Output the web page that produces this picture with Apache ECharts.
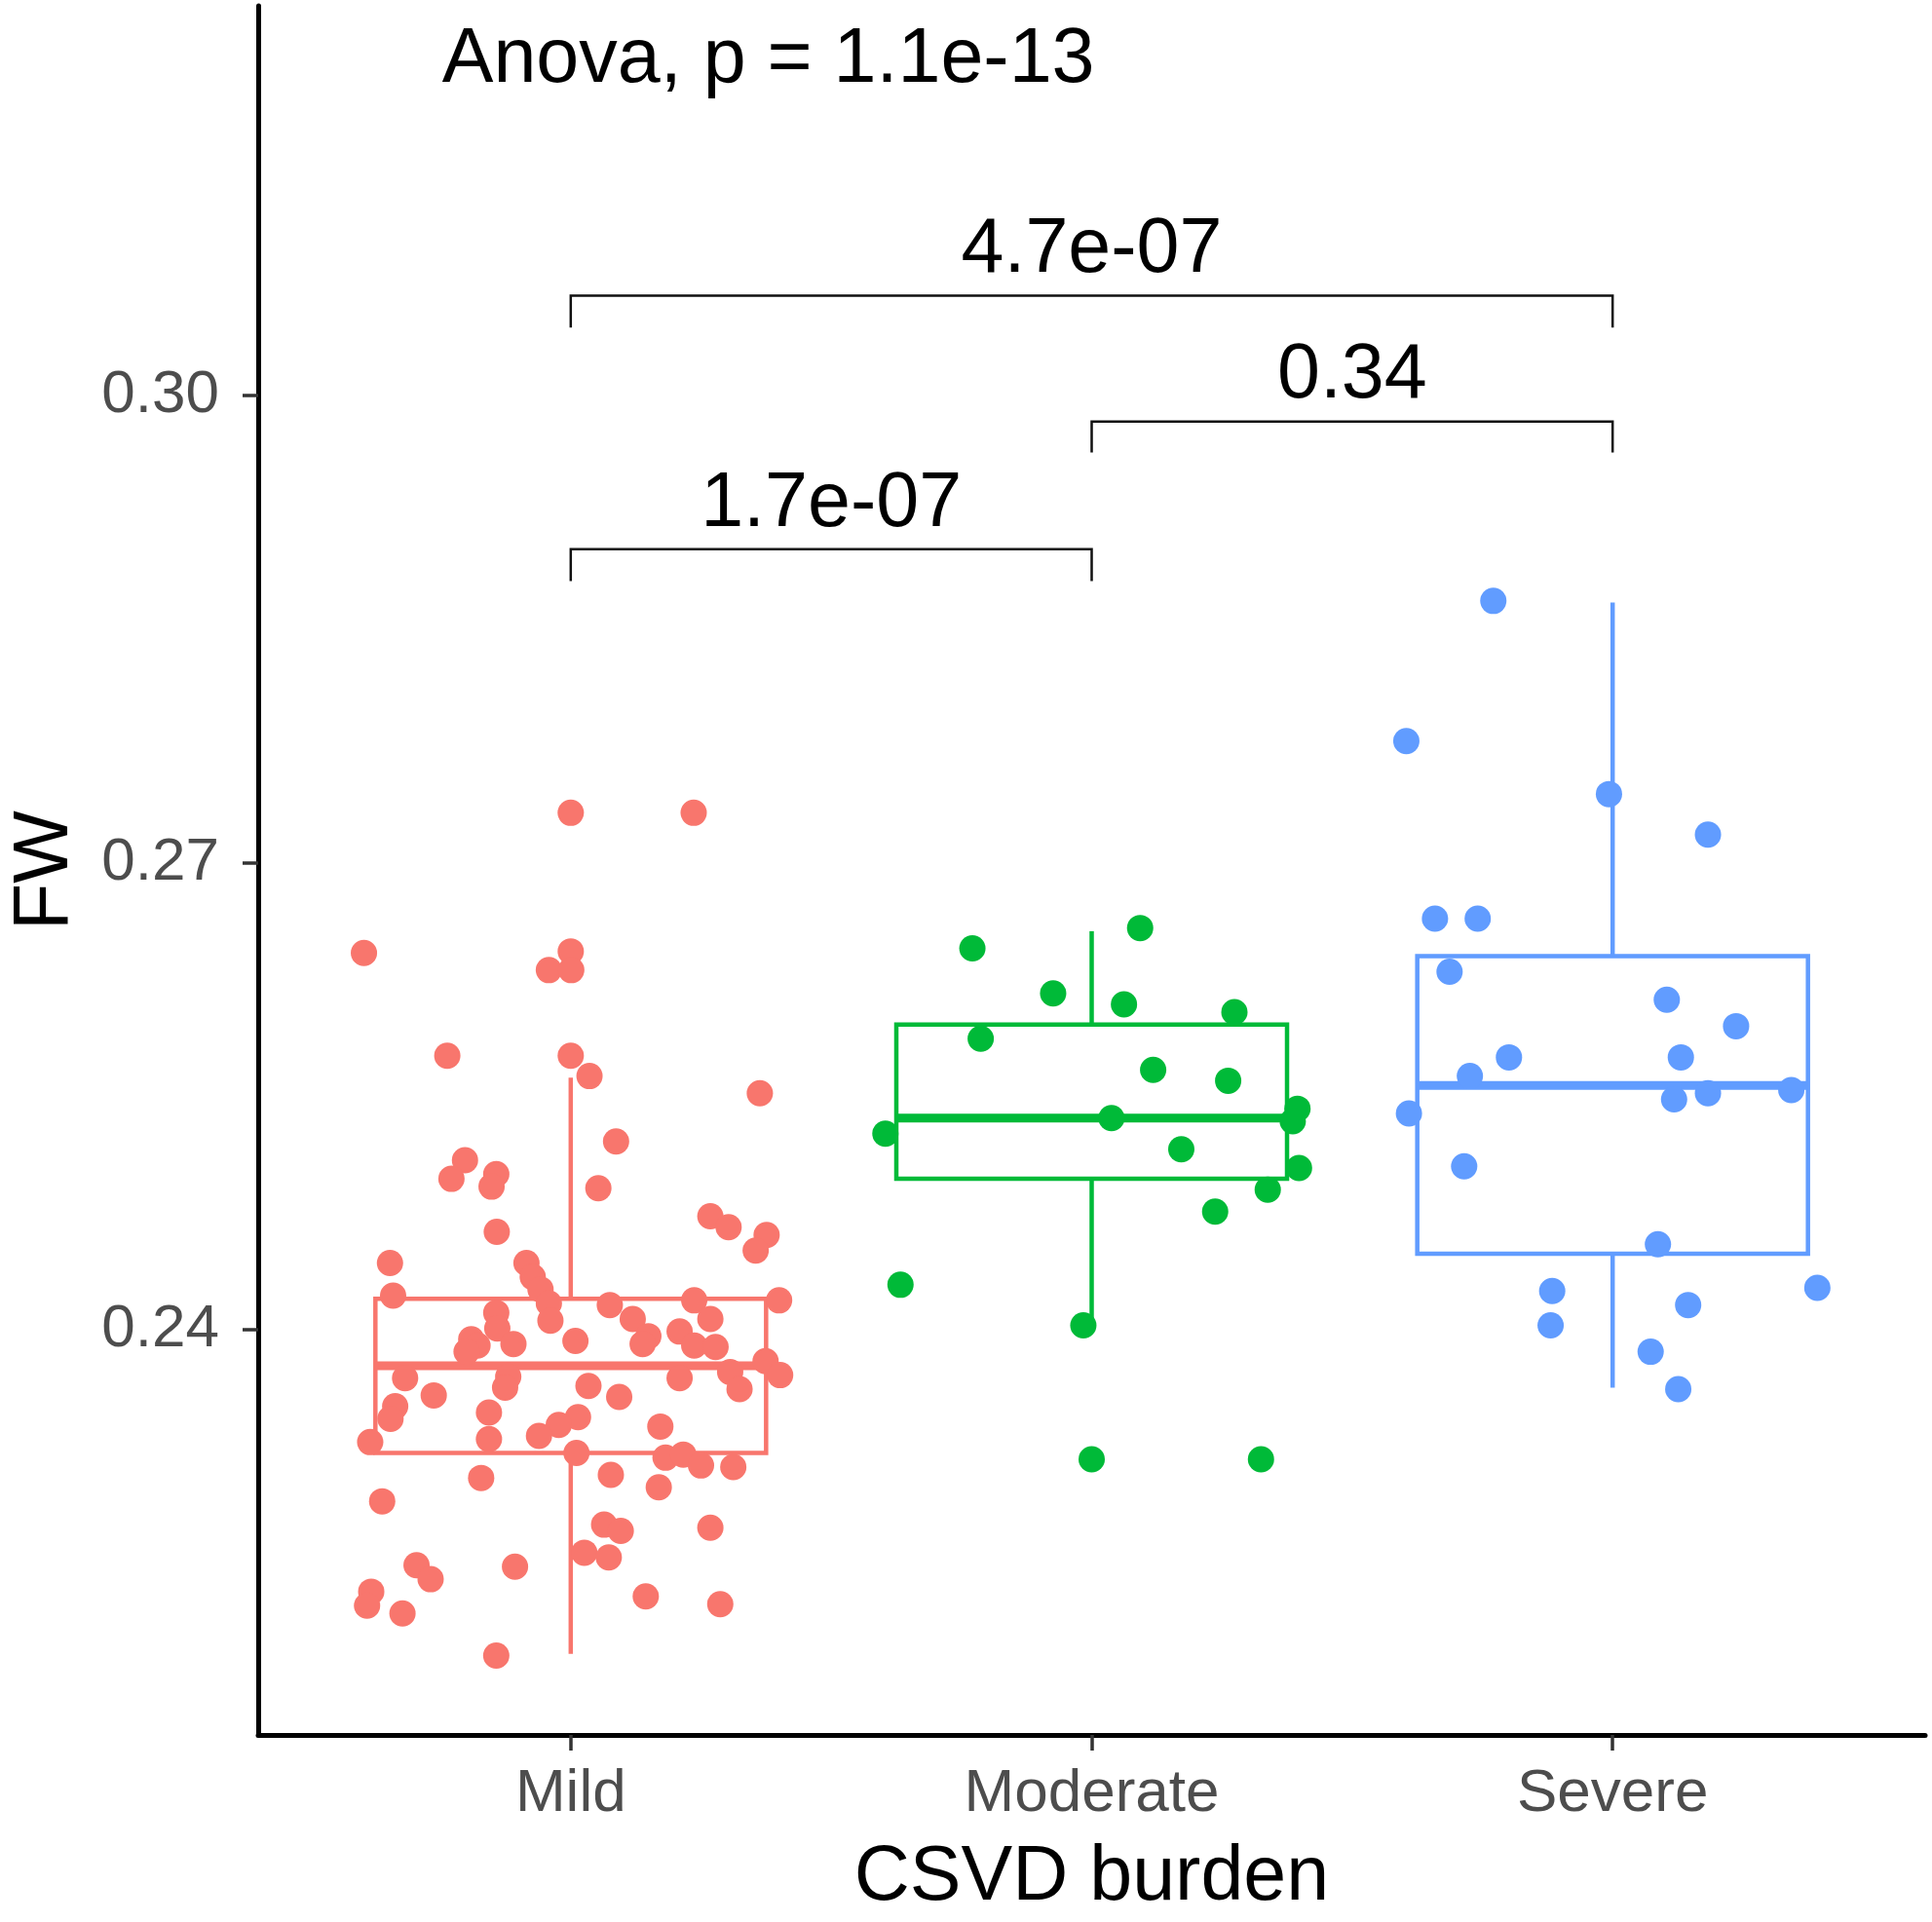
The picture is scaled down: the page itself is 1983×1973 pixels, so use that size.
<!DOCTYPE html>
<html lang="en">
<head>
<meta charset="UTF-8">
<title>FW by CSVD burden</title>
<script src="https://cdn.jsdelivr.net/npm/echarts@6/dist/echarts.min.js"></script>
<style>
    body { margin: 0; background: #fff; }
    #chart { width: 1983px; height: 1973px; }
</style>
</head>
<body>
<div id="chart"></div>
<script>
// groups and colours
var categories = ['Mild', 'Moderate', 'Severe'];
var groupColors = ['#F8766D', '#00BA38', '#619CFF'];
var yTicks = [0.24, 0.27, 0.30];

// jittered points (x = jittered group position, y = FW)
var mildX = [1.000, 1.236, 0.603, 1.000, 0.958, 1.001, 0.763, 1.000, 1.036, 1.363, 1.087, 0.797, 0.771, 0.857, 0.848, 1.053, 1.268, 1.303, 1.376, 1.355, 0.858,
    0.653, 0.659, 0.915, 0.927, 0.942, 0.958, 0.961, 0.857, 0.859, 0.809, 0.821, 0.800, 0.890, 1.009, 1.075, 1.119, 1.149, 1.138, 1.237, 1.268, 1.209, 1.237, 1.278, 1.400,
    1.374, 1.402, 1.306, 1.324, 1.209, 0.682, 0.737, 0.880, 0.874, 1.034, 1.093, 0.663, 0.654, 0.843, 1.014, 0.977, 0.939, 1.172, 0.843, 0.615, 1.011, 1.182, 1.216, 1.250,
    1.312, 1.077, 0.828, 1.169, 0.638, 1.064, 1.096, 1.268, 1.026, 1.073, 0.704, 0.731, 0.893, 0.617, 0.609, 0.677, 1.144, 1.287, 0.857];
var mildY = [0.2732, 0.2732, 0.2642, 0.2643, 0.2631, 0.2631, 0.2576, 0.2576, 0.2563, 0.2552, 0.2521, 0.2509, 0.2497, 0.2500, 0.2492, 0.2491, 0.2473, 0.2466, 0.2461, 0.2451, 0.2463,
    0.2443, 0.2422, 0.2443, 0.2434, 0.2426, 0.2417, 0.2406, 0.2411, 0.2401, 0.2394, 0.2390, 0.2386, 0.2391, 0.2393, 0.2416, 0.2407, 0.2396, 0.2391, 0.2419, 0.2407, 0.2399, 0.2390, 0.2389, 0.2419,
    0.2380, 0.2371, 0.2373, 0.2362, 0.2369, 0.2369, 0.2358, 0.2370, 0.2363, 0.2364, 0.2357, 0.2351, 0.2343, 0.2347, 0.2344, 0.2339, 0.2332, 0.2338, 0.2330, 0.2328, 0.2321, 0.2318, 0.2320, 0.2313,
    0.2312, 0.2307, 0.2305, 0.2299, 0.2290, 0.2275, 0.2271, 0.2273, 0.2257, 0.2254, 0.2249, 0.2240, 0.2248, 0.2232, 0.2223, 0.2218, 0.2229, 0.2224, 0.2191];

var moderateX = [2.093, 1.771, 1.926, 2.062, 2.274, 1.787, 2.118, 2.262, 2.395, 2.386, 2.038, 1.604, 2.172, 2.398, 2.338, 2.237, 1.633, 1.984, 2.000, 2.325];
var moderateY = [0.2658, 0.2645, 0.2616, 0.2609, 0.2604, 0.2587, 0.2567, 0.2560, 0.2542, 0.2534, 0.2536, 0.2526, 0.2516, 0.2504, 0.2490, 0.2476, 0.2429, 0.2403, 0.2317, 0.2317];

var severeX = [2.771, 2.604, 2.993, 3.183, 2.659, 2.741, 2.687, 3.104, 3.237, 2.801, 3.131, 2.726, 3.118, 3.183, 3.343, 2.609, 2.715, 3.087, 2.884, 2.881, 3.145, 3.393, 3.073, 3.126];
var severeY = [0.2868, 0.2778, 0.2744, 0.2718, 0.2664, 0.2664, 0.2630, 0.2612, 0.2595, 0.2575, 0.2575, 0.2563, 0.2548, 0.2552, 0.2554, 0.2539, 0.2505, 0.2455, 0.2425, 0.2403, 0.2416, 0.2427, 0.2386, 0.2362];

// boxplot stats per group
var boxLow = [0.2192, 0.2404, 0.2363];
var boxQ1 = [0.2321, 0.2497, 0.2449];
var boxMedian = [0.2377, 0.2536, 0.2557];
var boxQ3 = [0.2420, 0.2596, 0.2640];
var boxHigh = [0.2562, 0.2656, 0.2867];

// pairwise comparison brackets
var bracketFrom = [1, 2, 1];
var bracketTo = [2, 3, 3];
var bracketY = [0.29012, 0.29832, 0.3064];
var bracketTipY = [0.28807, 0.29633, 0.30435];
var bracketLabels = ['1.7e-07', '0.34', '4.7e-07'];

var anovaLabel = 'Anova, p = 1.1e-13';
var anovaPos = [0.753, 0.3215];

var FONT = '"Liberation Sans", Arial, sans-serif';
var BOX_HALF = 0.375;

function zip(xs, ys) {
    var out = [];
    for (var i = 0; i < xs.length; i++) out.push([xs[i], ys[i]]);
    return out;
}

var boxData = [];
for (var i = 0; i < categories.length; i++) {
    boxData.push([i + 1, boxLow[i], boxQ1[i], boxMedian[i], boxQ3[i], boxHigh[i]]);
}
var bracketData = [];
for (var j = 0; j < bracketLabels.length; j++) {
    bracketData.push([bracketFrom[j], bracketTo[j], bracketY[j], bracketTipY[j], j]);
}

function renderBox(params, api) {
    var x = api.value(0);
    var col = groupColors[params.dataIndex];
    var lw = 4.5;
    var pLow = api.coord([x, api.value(1)]);
    var pQ1 = api.coord([x, api.value(2)]);
    var pQ3 = api.coord([x, api.value(4)]);
    var pHigh = api.coord([x, api.value(5)]);
    var left = api.coord([x - BOX_HALF, api.value(4)]);
    var right = api.coord([x + BOX_HALF, api.value(2)]);
    var mL = api.coord([x - BOX_HALF, api.value(3)]);
    var mR = api.coord([x + BOX_HALF, api.value(3)]);
    var ls = { stroke: col, lineWidth: lw };
    return {
        type: 'group',
        children: [
            { type: 'line', shape: { x1: pHigh[0], y1: pHigh[1], x2: pQ3[0], y2: pQ3[1] }, style: ls },
            { type: 'line', shape: { x1: pQ1[0], y1: pQ1[1], x2: pLow[0], y2: pLow[1] }, style: ls },
            { type: 'rect', shape: { x: left[0], y: left[1], width: right[0] - left[0], height: right[1] - left[1] },
              style: { fill: '#fff', stroke: col, lineWidth: lw } },
            { type: 'line', shape: { x1: mL[0], y1: mL[1], x2: mR[0], y2: mR[1] }, style: { stroke: col, lineWidth: lw * 2 } }
        ]
    };
}

function renderBracket(params, api) {
    var a = api.coord([api.value(0), api.value(2)]);
    var b = api.coord([api.value(1), api.value(2)]);
    var ta = api.coord([api.value(0), api.value(3)]);
    var tb = api.coord([api.value(1), api.value(3)]);
    return {
        type: 'group',
        children: [
            { type: 'polyline', shape: { points: [ta, a, b, tb] }, style: { stroke: '#111', lineWidth: 2.5, fill: null } },
            { type: 'text', x: (a[0] + b[0]) / 2, y: a[1] - 46,
              style: { text: bracketLabels[api.value(4)], fontSize: 79, fontFamily: FONT, fill: '#000', align: 'center', verticalAlign: 'middle' } }
        ]
    };
}

function renderAnova(params, api) {
    var p = api.coord([api.value(0), api.value(1)]);
    return { type: 'text', x: p[0], y: p[1],
        style: { text: anovaLabel, fontSize: 79, fontFamily: FONT, fill: '#000', align: 'left', verticalAlign: 'middle' } };
}

function scatter(name, xs, ys, col) {
    return {
        name: name, type: 'scatter', data: zip(xs, ys), symbolSize: 27, z: 5,
        itemStyle: { color: col, opacity: 1 }
    };
}

var chart = echarts.init(document.getElementById('chart'));
chart.setOption({
    animation: false,
    backgroundColor: '#fff',
    grid: { left: 257, right: 7, top: 6, bottom: 181, containLabel: false },
    xAxis: {
        type: 'value', min: 0.4, max: 3.6,
        name: 'CSVD burden', nameLocation: 'middle', nameGap: 108,
        nameTextStyle: { fontSize: 79, fontFamily: FONT, color: '#000' },
        axisLine: { onZero: false, lineStyle: { color: '#000', width: 5 } },
        axisTick: { customValues: [1, 2, 3], length: 16, lineStyle: { color: '#333', width: 3.5 } },
        axisLabel: {
            customValues: [1, 2, 3], margin: 30, fontSize: 62, fontFamily: FONT, color: '#4D4D4D',
            formatter: function (v) { return categories[Math.round(v) - 1] || ''; }
        },
        splitLine: { show: false }
    },
    yAxis: {
        type: 'value', min: 0.214, max: 0.325,
        name: 'FW', nameLocation: 'middle', nameGap: 178, nameRotate: 90,
        nameTextStyle: { fontSize: 79, fontFamily: FONT, color: '#000' },
        axisLine: { onZero: false, lineStyle: { color: '#000', width: 5 } },
        axisTick: { customValues: yTicks, length: 16, lineStyle: { color: '#333', width: 3.5 } },
        axisLabel: {
            customValues: yTicks, margin: 40, fontSize: 62, fontFamily: FONT, color: '#4D4D4D',
            formatter: function (v) { return v.toFixed(2); }
        },
        splitLine: { show: false }
    },
    series: [
        { type: 'custom', name: 'box', renderItem: renderBox, data: boxData, z: 2, clip: false },
        scatter('Mild', mildX, mildY, groupColors[0]),
        scatter('Moderate', moderateX, moderateY, groupColors[1]),
        scatter('Severe', severeX, severeY, groupColors[2]),
        { type: 'custom', name: 'brackets', renderItem: renderBracket, data: bracketData, z: 6, clip: false },
        { type: 'custom', name: 'anova', renderItem: renderAnova, data: [anovaPos], z: 6, clip: false }
    ]
});
</script>
</body>
</html>
